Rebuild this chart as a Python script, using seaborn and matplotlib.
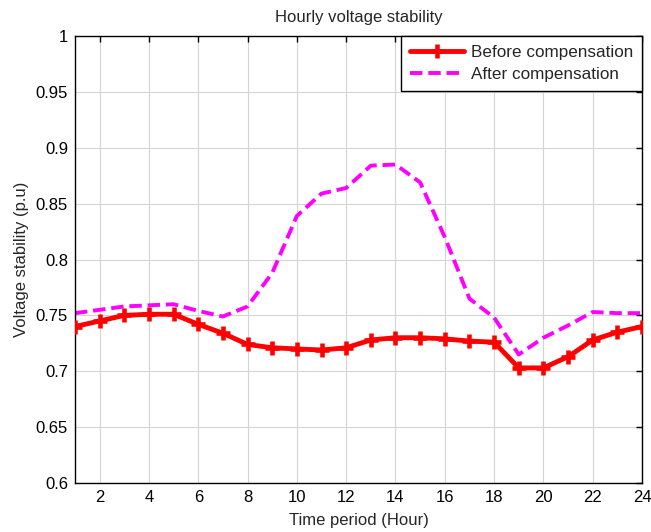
import matplotlib
matplotlib.use("Agg")
import matplotlib.pyplot as plt
import seaborn as sns
import pandas as pd

hours = list(range(1, 25))
before_comp = [0.740, 0.745, 0.750, 0.751, 0.751, 0.742, 0.734, 0.724, 0.721, 0.720,
               0.719, 0.721, 0.728, 0.730, 0.730, 0.729, 0.727, 0.726, 0.703, 0.703,
               0.713, 0.728, 0.735, 0.740]
after_comp = [0.752, 0.755, 0.758, 0.759, 0.760, 0.754, 0.749, 0.758, 0.788, 0.839,
              0.859, 0.864, 0.884, 0.885, 0.869, 0.820, 0.765, 0.748, 0.715, 0.730,
              0.741, 0.753, 0.752, 0.752]
series_names = ["Before compensation", "After compensation"]
x_ticks = list(range(2, 25, 2))
y_ticks = [0.6, 0.65, 0.7, 0.75, 0.8, 0.85, 0.9, 0.95, 1.0]

sns.set_style("white")
plt.rcParams["font.family"] = ["Liberation Sans", "DejaVu Sans"]

df = pd.DataFrame({"hour": hours, "before": before_comp, "after": after_comp})

fig = plt.figure(figsize=(6.51, 5.32), dpi=100)
ax = fig.add_axes([0.1152, 0.0921, 0.8710, 0.8402])

sns.lineplot(data=df, x="hour", y="before", ax=ax, color="#ff0000", linewidth=3.5,
             marker="+", markersize=10, markeredgewidth=3.3, markeredgecolor="#ff0000",
             label=series_names[0], zorder=3)
sns.lineplot(data=df, x="hour", y="after", ax=ax, color="#ff00ff", linewidth=2.8,
             label=series_names[1], zorder=2)
ax.lines[-1].set_linestyle((0, (3.2, 1.5)))

ax.set_xlim(1, 24)
ax.set_ylim(0.6, 1.0)
ax.set_xticks(x_ticks)
ax.set_yticks(y_ticks)
ax.set_yticklabels([f"{v:g}" for v in y_ticks])
ax.grid(True, color="#d4d4d4", linewidth=0.8)
ax.set_axisbelow(True)
ax.tick_params(direction="in", length=4, width=1, top=True, right=True,
               labelsize=12, colors="black", pad=5)
for s in ax.spines.values():
    s.set_visible(True)
    s.set_color("black")
    s.set_linewidth(1)

ax.set_xlabel("Time period (Hour)", fontsize=12, labelpad=6)
ax.set_ylabel("Voltage stability (p.u)", fontsize=12, labelpad=5)
ax.set_title("Hourly voltage stability", fontsize=12, pad=10)

leg = ax.legend(loc="upper right", fontsize=12.3, frameon=True, fancybox=False,
                framealpha=1, edgecolor="black", borderaxespad=0, handlelength=3.2,
                borderpad=0.5, labelspacing=0.45, handletextpad=0.4, numpoints=1)
leg.get_frame().set_linewidth(1)

fig.savefig("out.png", dpi=100)
